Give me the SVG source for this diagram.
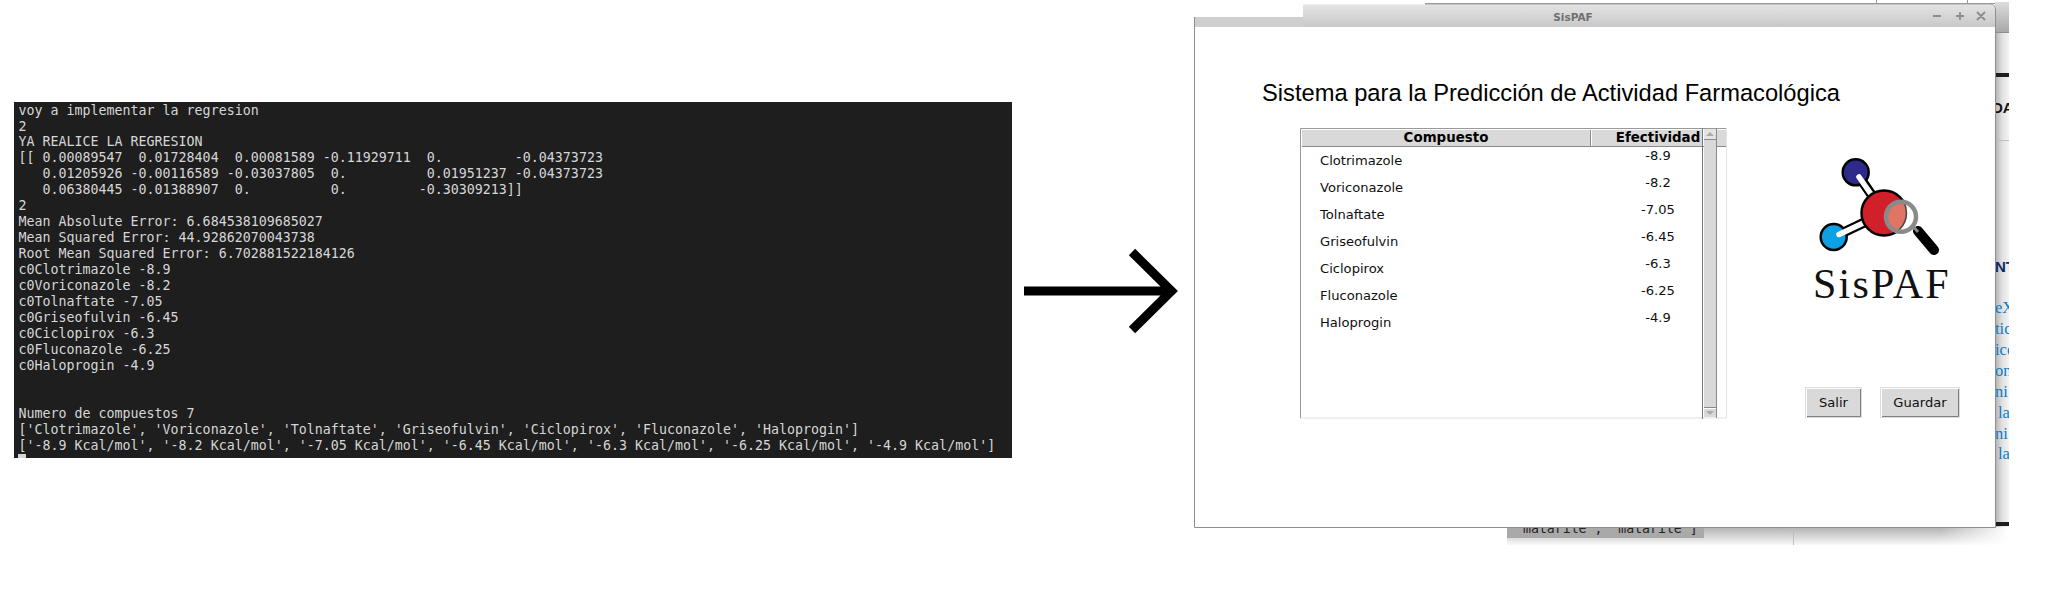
<svg xmlns="http://www.w3.org/2000/svg" width="2048" height="602" viewBox="0 0 2048 602">
<defs>
<linearGradient id="title" x1="0" y1="0" x2="0" y2="1"><stop offset="0" stop-color="#e4e4e4"/><stop offset="1" stop-color="#c8c8c8"/></linearGradient>
<linearGradient id="stripTop" x1="0" y1="0" x2="0" y2="1"><stop offset="0" stop-color="#dcdcdc"/><stop offset="1" stop-color="#a8a8a8"/></linearGradient>
<linearGradient id="strip" x1="0" y1="0" x2="1" y2="0"><stop offset="0" stop-color="#b0b0b0"/><stop offset="0.5" stop-color="#e0e0e0"/><stop offset="1" stop-color="#f4f4f4"/></linearGradient>
<linearGradient id="below" x1="0" y1="0" x2="0" y2="1"><stop offset="0" stop-color="#b0b0b0"/><stop offset="1" stop-color="#fafafa"/></linearGradient>
<linearGradient id="belowEnd" x1="0" y1="0" x2="1" y2="0"><stop offset="0" stop-color="#fff" stop-opacity="0"/><stop offset="1" stop-color="#fff"/></linearGradient>
<clipPath id="stripclip"><rect x="1995" y="0" width="14" height="540"/></clipPath>
<clipPath id="belowclip"><rect x="1507" y="527" width="197" height="11"/></clipPath>
<clipPath id="lens"><circle cx="1901" cy="216.700" r="14"/></clipPath>
<style>
text{white-space:pre}
.term{font:13.3px "DejaVu Sans Mono",monospace;fill:#d6d6d6}
.row{font:13.1px "DejaVu Sans",sans-serif;fill:#101010}
.hd{font:bold 13.4px "DejaVu Sans",sans-serif;fill:#000}
.val{text-anchor:middle}
.btn{font:13.1px "DejaVu Sans",sans-serif;fill:#101010;text-anchor:middle}
.link{font:16.5px "Liberation Serif",serif;fill:#0b7cc7}
.face{fill:#d9d9d9}
.dk{fill:#8a8a8a}
</style>
</defs>
<rect width="2048" height="602" fill="#fff"/>

<g id="terminal">
<rect x="14" y="102" width="998" height="356" fill="#1e1e1e"/>
<text class="term" x="18.5" y="114.500">voy a implementar la regresion</text>
<text class="term" x="18.5" y="130.500">2</text>
<text class="term" x="18.5" y="146">YA REALICE LA REGRESION</text>
<text class="term" x="18.5" y="162">[[ 0.00089547  0.01728404  0.00081589 -0.11929711  0.         -0.04373723</text>
<text class="term" x="18.5" y="178">   0.01205926 -0.00116589 -0.03037805  0.          0.01951237 -0.04373723</text>
<text class="term" x="18.5" y="194">   0.06380445 -0.01388907  0.          0.         -0.30309213]]</text>
<text class="term" x="18.5" y="209.500">2</text>
<text class="term" x="18.5" y="225.500">Mean Absolute Error: 6.684538109685027</text>
<text class="term" x="18.5" y="241.500">Mean Squared Error: 44.92862070043738</text>
<text class="term" x="18.5" y="257.500">Root Mean Squared Error: 6.702881522184126</text>
<text class="term" x="18.5" y="273.500">c0Clotrimazole -8.9</text>
<text class="term" x="18.5" y="289.500">c0Voriconazole -8.2</text>
<text class="term" x="18.5" y="305.500">c0Tolnaftate -7.05</text>
<text class="term" x="18.5" y="321.500">c0Griseofulvin -6.45</text>
<text class="term" x="18.5" y="337.500">c0Ciclopirox -6.3</text>
<text class="term" x="18.5" y="353.500">c0Fluconazole -6.25</text>
<text class="term" x="18.5" y="369.500">c0Haloprogin -4.9</text>
<text class="term" x="18.5" y="417.500">Numero de compuestos 7</text>
<text class="term" x="18.5" y="433.500">['Clotrimazole', 'Voriconazole', 'Tolnaftate', 'Griseofulvin', 'Ciclopirox', 'Fluconazole', 'Haloprogin']</text>
<text class="term" x="18.5" y="449.500">['-8.9 Kcal/mol', '-8.2 Kcal/mol', '-7.05 Kcal/mol', '-6.45 Kcal/mol', '-6.3 Kcal/mol', '-6.25 Kcal/mol', '-4.9 Kcal/mol']</text>
<rect x="18" y="454" width="8" height="4" fill="#d6d6d6"/>
</g>

<g id="connectors">
<path d="M1024 291H1171M1132 252L1171.500 291L1132 330" fill="none" stroke="#000" stroke-width="9"/>
</g>

<g id="background-window">
<rect x="1425" y="3" width="570" height="1" fill="#9a9a9a"/>
<rect x="1876" y="0" width="1" height="4" fill="#9a9a9a"/>
<rect x="1967" y="0" width="1" height="4" fill="#9a9a9a"/>
<rect x="1995" y="2" width="14" height="30" fill="url(#stripTop)"/>
<rect x="1995" y="32" width="14" height="504" fill="url(#strip)"/>
<rect x="1995" y="32" width="14" height="1" fill="#8e8e8e"/>
<rect x="1995" y="73" width="14" height="4" fill="#1e1e1e"/>
<rect x="1995" y="140" width="14" height="1" fill="#bdbdbd"/>
<g clip-path="url(#stripclip)">
<text x="1992" y="113" font-family="'Liberation Sans',sans-serif" font-weight="bold" font-size="15" fill="#111">DA</text>
<text x="1995" y="272" font-family="'Liberation Sans',sans-serif" font-weight="bold" font-size="15" fill="#0a2a66">NT</text>
<text class="link" x="1995" y="313">eX</text>
<text class="link" x="1995" y="334">tic</text>
<text class="link" x="1995" y="355">ice</text>
<text class="link" x="1995" y="376">on</text>
<text class="link" x="1995" y="397">ni</text>
<text class="link" x="1998" y="418">la</text>
<text class="link" x="1995" y="439">ni</text>
<text class="link" x="1998" y="459">la</text>
</g>
<rect x="1507" y="527" width="502" height="18" fill="url(#below)"/>
<rect x="1940" y="527" width="69" height="18" fill="url(#belowEnd)"/>
<rect x="1507" y="527" width="197" height="11" fill="#a9a9a9"/>
<rect x="1793" y="527" width="1" height="18" fill="#bdbdbd"/>
<rect x="1995" y="522" width="14" height="4" fill="#1e1e1e"/>
<g clip-path="url(#belowclip)">
<text x="1523" y="533" font-family="'DejaVu Sans Mono',monospace" font-size="13.200" fill="#222">matarile', 'matarile']</text>
</g>
</g>

<g id="main-window">
<rect x="1194" y="17" width="109" height="10" fill="#cfcfcf"/>
<path d="M1303 4.500H1990Q1995 4.500 1995 10V27H1303Z" fill="url(#title)"/>
<rect x="1194" y="27" width="801" height="500" fill="#fff"/>
<path d="M1425 4H1990Q1995.500 4 1995.500 10" fill="none" stroke="#9a9a9a"/>
<path d="M1194.500 17V527.500H1995.500V10" fill="none" stroke="#8e8e8e"/>
<text x="1573" y="21" text-anchor="middle" font-family="'DejaVu Sans',sans-serif" font-weight="bold" font-size="10.500" fill="#6f6f6f">SisPAF</text>
<path d="M1933 16H1941M1956 16H1964M1960 12V20M1977 12L1985 20M1985 12L1977 20" fill="none" stroke="#8c8c8c" stroke-width="1.800"/>
<text x="1262" y="101" font-family="'Liberation Sans',sans-serif" font-size="23.700" fill="#000">Sistema para la Predicción de Actividad Farmacológica</text>
</g>

<g id="table">
<path d="M1300.500 418V128.500H1726.500V418H1300" fill="none" stroke="#e2e2e2"/>
<path d="M1300.500 418V128.500H1726" fill="none" stroke="#999"/>
<rect x="1302" y="130" width="288" height="16" class="face"/>
<rect x="1592" y="130" width="110" height="16" class="face"/>
<rect x="1717" y="130" width="9" height="16" class="face"/>
<rect x="1302" y="146" width="424" height="1" class="dk"/>
<rect x="1590" y="130" width="1" height="17" class="dk"/>
<rect x="1702" y="128" width="1" height="291" fill="#777"/>
<rect x="1716" y="128" width="1" height="290" class="dk"/>
<rect x="1704" y="129" width="12" height="10" fill="#e4e4e4"/>
<path d="M1706 136H1714L1710 132Z" fill="#aaa"/>
<rect x="1704" y="139" width="12" height="1" class="dk"/>
<rect x="1704" y="140" width="12" height="267" class="face"/>
<rect x="1704" y="407" width="12" height="1" class="dk"/>
<rect x="1704" y="409" width="12" height="8" class="face"/>
<path d="M1706 411H1714L1710 415Z" fill="#aaa"/>
<text class="hd" x="1446" y="142" text-anchor="middle">Compuesto</text>
<text class="hd" x="1658" y="142" text-anchor="middle">Efectividad</text>
<text class="row" x="1320" y="165">Clotrimazole</text>
<text class="row" x="1320" y="192">Voriconazole</text>
<text class="row" x="1320" y="219">Tolnaftate</text>
<text class="row" x="1320" y="246">Griseofulvin</text>
<text class="row" x="1320" y="273">Ciclopirox</text>
<text class="row" x="1320" y="300">Fluconazole</text>
<text class="row" x="1320" y="327">Haloprogin</text>
<text class="row val" x="1658" y="160">-8.9</text>
<text class="row val" x="1658" y="187">-8.2</text>
<text class="row val" x="1658" y="214">-7.05</text>
<text class="row val" x="1658" y="241">-6.45</text>
<text class="row val" x="1658" y="268">-6.3</text>
<text class="row val" x="1658" y="295">-6.25</text>
<text class="row val" x="1658" y="322">-4.9</text>
</g>

<g id="logo">
<path d="M1856 172L1884 213L1834 237" fill="none" stroke="#000" stroke-width="10"/>
<circle cx="1855.700" cy="172.300" r="13" fill="#2e2a8c" stroke="#000" stroke-width="2.500"/>
<circle cx="1833.700" cy="237" r="13" fill="#0ea0e4" stroke="#000" stroke-width="2.500"/>
<path d="M1859 177L1880 207M1839 234.500L1878 216" fill="none" stroke="#fff" stroke-width="5.500" stroke-linecap="round"/>
<circle cx="1884" cy="213" r="22.500" fill="#d2202a" stroke="#000" stroke-width="2.500"/>
<line x1="1918" y1="231" x2="1934" y2="250" stroke="#000" stroke-width="10" stroke-linecap="round"/>
<line x1="1911" y1="224" x2="1918" y2="232" stroke="#8a8a8a" stroke-width="3"/>
<circle cx="1901" cy="216.700" r="14" fill="#fff"/>
<g clip-path="url(#lens)"><circle cx="1884" cy="213" r="22.500" fill="#df7565" stroke="#444" stroke-width="1.500"/></g>
<circle cx="1901" cy="216.700" r="15" fill="none" stroke="#8a8a8a" stroke-width="4.500"/>
<text x="1813" y="298" font-family="'Liberation Serif',serif" font-size="42" letter-spacing="2.200" fill="#111">SisPAF</text>
</g>

<g id="button-salir">
<rect x="1805.500" y="387.500" width="56" height="30" fill="#fff" stroke="#dcdcdc"/>
<rect x="1807" y="389" width="53" height="27" class="face"/>
<path d="M1807 416.500H1860.500V389" fill="none" stroke="#7f7f7f"/>
<text class="btn" x="1833.500" y="407">Salir</text>
</g>
<g id="button-guardar">
<rect x="1880.500" y="387.500" width="79" height="30" fill="#fff" stroke="#dcdcdc"/>
<rect x="1882" y="389" width="76" height="27" class="face"/>
<path d="M1882 416.500H1958.500V389" fill="none" stroke="#7f7f7f"/>
<text class="btn" x="1920" y="407">Guardar</text>
</g>
</svg>
